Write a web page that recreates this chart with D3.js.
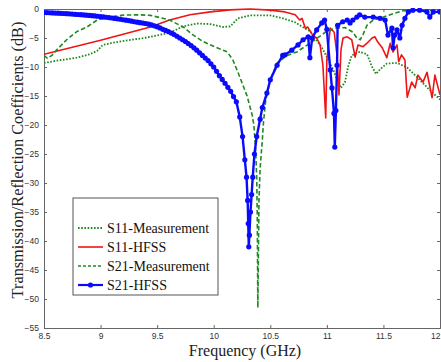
<!DOCTYPE html>
<html>
<head>
<meta charset="utf-8">
<script src="https://cdn.jsdelivr.net/npm/d3@7"></script>
<style>
  body { margin: 0; background: #fff; }
  svg { display: block; }
</style>
</head>
<body>
<svg id="chart" width="441" height="362"></svg>
<script>
// tick values
var xTicks = [8.5, 9, 9.5, 10, 10.5, 11, 11.5, 12];
var yTicks = [0, -5, -10, -15, -20, -25, -30, -35, -40, -45, -50, -55];

// S11 - Measurement (green dotted)
var s11MeasF = [8.5, 8.615, 8.79, 8.905, 8.97, 9.02, 9.11, 9.235, 9.35, 9.44, 9.61, 9.73, 9.85, 9.97, 10.08, 10.145, 10.215, 10.32, 10.5, 10.61, 10.72, 10.81, 10.85, 10.895, 10.955, 11.0, 11.055, 11.09, 11.125, 11.16, 11.187, 11.22, 11.29, 11.355, 11.4, 11.435, 11.47, 11.53, 11.62, 11.71, 11.8, 11.91, 12.0];
var s11MeasDb = [-9.3, -8.9, -8.4, -7.8, -7.2, -6.2, -5.8, -5.4, -5.1, -4.8, -4.1, -3.0, -2.5, -2.6, -3.1, -3.0, -1.6, -1.1, -1.1, -1.6, -2.3, -3.4, -3.8, -5.0, -6.6, -8.3, -10.4, -12.2, -13.6, -12.6, -10.0, -8.0, -7.4, -7.8, -10.0, -11.2, -10.4, -9.4, -9.3, -10.1, -11.8, -14.0, -15.6];

// S11 - HFSS (red)
var s11HfssF = [8.5, 9.0, 9.44, 9.61, 9.79, 9.97, 10.145, 10.32, 10.5, 10.63, 10.72, 10.76, 10.78, 10.81, 10.83, 10.875, 10.91, 10.94, 10.965, 10.99, 11.0, 11.03, 11.065, 11.09, 11.107, 11.125, 11.143, 11.18, 11.22, 11.25, 11.275, 11.32, 11.355, 11.4, 11.425, 11.45, 11.49, 11.53, 11.56, 11.585, 11.62, 11.635, 11.66, 11.69, 11.71, 11.75, 11.78, 11.805, 11.85, 11.885, 11.93, 11.955, 12.0];
var s11HfssDb = [-7.8, -5.4, -3.1, -1.9, -1.0, -0.5, -0.15, 0, -0.2, -0.5, -1.0, -1.9, -1.6, -3.3, -3.1, -4.5, -5.0, -6.2, -9.7, -18.8, -8.8, -3.3, -4.0, -8.0, -14.8, -7.0, -5.0, -4.8, -5.3, -8.3, -6.2, -6.5, -5.9, -5.0, -4.8, -5.7, -6.7, -8.4, -5.9, -7.4, -6.2, -9.1, -7.9, -8.8, -15.2, -12.6, -13.6, -11.4, -12.6, -10.9, -15.3, -11.4, -14.8];

// S21 - Measurement (green dashed)
var s21MeasF = [8.5, 8.53, 8.57, 8.615, 8.7, 8.79, 8.88, 8.97, 9.08, 9.2, 9.35, 9.44, 9.53, 9.61, 9.73, 9.82, 9.905, 10.03, 10.12, 10.17, 10.23, 10.295, 10.34, 10.355, 10.37, 10.38, 10.385, 10.39, 10.395, 10.4, 10.41, 10.43, 10.44, 10.46, 10.5, 10.56, 10.65, 10.735, 10.805, 10.895, 10.98, 11.07, 11.16, 11.23, 11.265, 11.295, 11.32, 11.355, 11.41, 11.5, 11.585, 11.67, 11.82, 12.0];
var s21MeasDb = [-8.0, -8.5, -8.0, -7.0, -5.3, -3.9, -3.1, -1.9, -1.4, -1.05, -1.0, -1.1, -1.5, -1.9, -3.1, -4.5, -5.6, -6.7, -7.4, -8.8, -11.7, -15.0, -18.3, -20, -24, -29, -36, -51.5, -42, -33, -27.5, -22.5, -19.5, -15.7, -12.2, -9.3, -8.0, -7.4, -6.5, -5.3, -4.1, -3.3, -3.2, -4.0, -5.0, -5.3, -4.4, -2.8, -1.9, -1.4, -0.8, -0.3, -0.2, -0.2];

// S21 - HFSS (blue with markers), densely sampled on the smooth part
var s21HfssF = [8.5, 8.525, 8.55, 8.575, 8.6, 8.625, 8.65, 8.675, 8.7, 8.725, 8.75, 8.775, 8.8, 8.825, 8.85, 8.875, 8.9, 8.925, 8.95, 8.975,
    9.0, 9.025, 9.05, 9.075, 9.1, 9.125, 9.15, 9.175, 9.2, 9.225, 9.25, 9.275, 9.3, 9.325, 9.35, 9.375, 9.4, 9.425, 9.45, 9.475,
    9.5, 9.525, 9.55, 9.575, 9.6, 9.625, 9.65, 9.675, 9.7, 9.725, 9.75, 9.775, 9.8, 9.825, 9.85, 9.875, 9.9, 9.925, 9.95, 9.975,
    10.0, 10.025, 10.05, 10.075, 10.1, 10.125, 10.15, 10.175, 10.2, 10.23, 10.255, 10.275, 10.29, 10.3, 10.305, 10.31, 10.315, 10.325, 10.335, 10.345, 10.36, 10.38, 10.41, 10.43, 10.47, 10.5, 10.56, 10.61, 10.63, 10.69, 10.745, 10.79, 10.835, 10.85, 10.87, 10.91, 10.955, 10.98, 11.0, 11.03, 11.045, 11.063, 11.07, 11.08, 11.09, 11.095, 11.14, 11.18, 11.205, 11.23, 11.265, 11.29, 11.335, 11.41, 11.47, 11.515, 11.54, 11.575, 11.585, 11.6, 11.62, 11.645, 11.665, 11.69, 11.72, 11.76, 11.82, 11.885, 11.91, 11.94, 12.0];
var s21HfssDb = [-0.6, -0.62, -0.65, -0.68, -0.7, -0.72, -0.75, -0.78, -0.8, -0.84, -0.88, -0.91, -0.95, -0.98, -1.02, -1.06, -1.1, -1.15, -1.2, -1.25,
    -1.3, -1.36, -1.42, -1.48, -1.55, -1.62, -1.7, -1.77, -1.85, -1.92, -2.0, -2.1, -2.2, -2.27, -2.35, -2.42, -2.5, -2.62, -2.75, -2.9,
    -3.05, -3.27, -3.5, -3.7, -3.9, -4.15, -4.4, -4.7, -5.0, -5.3, -5.6, -5.95, -6.3, -6.7, -7.1, -7.55, -8.0, -8.45, -8.9, -9.45,
    -10.0, -10.75, -11.5, -12.15, -12.8, -13.5, -14.2, -15.1, -16.0, -18.6, -22, -26, -29, -33, -37, -41, -39, -35, -32, -29, -25, -22, -19, -17, -14.5, -12.2, -9.7, -8.0, -7.9, -7.1, -6.2, -5.3, -4.8, -8.4, -5.0, -3.6, -2.4, -1.9, -3.5, -10.5, -13.6, -18, -23.8, -17.5, -9.7, -2.8, -2.2, -1.9, -2.4, -1.9, -1.4, -1.0, -1.4, -1.4, -1.6, -1.9, -4.5, -3.3, -6.7, -4.5, -3.6, -5.0, -2.8, -1.6, -0.5, -0.2, -0.2, -0.5, -1.4, -0.5, -0.5];

var legendNames = ["S11-Measurement", "S11-HFSS", "S21-Measurement", "S21-HFSS"];

var svg = d3.select("#chart");
var margin = { top: 9, right: 1, bottom: 34, left: 44 },
    width = 441 - margin.left - margin.right,
    height = 362 - margin.top - margin.bottom;

var x = d3.scaleLinear().domain([8.5, 12]).range([0, width]);
var y = d3.scaleLinear().domain([-55, 0]).range([height, 0]);

var g = svg.append("g")
    .attr("transform", "translate(" + margin.left + "," + margin.top + ")");

g.append("defs").append("clipPath")
    .attr("id", "clip")
    .append("rect")
    .attr("x", 0).attr("y", -1)
    .attr("width", width).attr("height", height + 2);

// axes, MATLAB style: ticks inward on all four sides
var axisColor = "#666";
var xAxis = d3.axisBottom(x).tickValues(xTicks).tickSize(-3).tickPadding(6).tickFormat(d3.format("~g"));
var yAxis = d3.axisLeft(y).tickValues(yTicks).tickSize(-3).tickPadding(6).tickFormat(d3.format("~g"));

var gx = g.append("g").attr("transform", "translate(0," + height + ")").call(xAxis);
var gy = g.append("g").call(yAxis);
g.append("g").call(d3.axisTop(x).tickValues(xTicks).tickSize(-3).tickFormat(""));
g.append("g").attr("transform", "translate(" + width + ",0)")
    .call(d3.axisRight(y).tickValues(yTicks).tickSize(-3).tickFormat(""));

g.selectAll(".domain").attr("stroke", axisColor);
g.selectAll(".tick line").attr("stroke", axisColor);
g.selectAll(".tick text")
    .attr("font-family", "Liberation Sans, Arial, sans-serif")
    .attr("font-size", 8.5)
    .attr("fill", "#333");
gx.selectAll(".tick text").attr("dy", "0.6em");
// last x label sits on the window edge
gx.selectAll(".tick text").filter(function (d) { return d === 12; }).attr("text-anchor", "end");
gy.selectAll(".tick text").attr("dx", "0.1em");

// curves
var plot = g.append("g").attr("clip-path", "url(#clip)");

function pts(fs, vs) {
    return fs.map(function (f, i) { return [f, vs[i]]; });
}
var line = d3.line()
    .x(function (d) { return x(d[0]); })
    .y(function (d) { return y(d[1]); });

var green = "#1f8a1f";
var red = "#f01414";
var blue = "#0a0aff";

plot.append("path")
    .attr("d", line(pts(s11MeasF, s11MeasDb)))
    .attr("fill", "none").attr("stroke", green)
    .attr("stroke-width", 1.8).attr("stroke-dasharray", "1.6,1.6");

plot.append("path")
    .attr("d", line(pts(s11HfssF, s11HfssDb)))
    .attr("fill", "none").attr("stroke", red)
    .attr("stroke-width", 1.6).attr("stroke-linejoin", "round");

plot.append("path")
    .attr("d", line(pts(s21MeasF, s21MeasDb)))
    .attr("fill", "none").attr("stroke", green)
    .attr("stroke-width", 1.6).attr("stroke-dasharray", "4.5,2.5");

var blueData = pts(s21HfssF, s21HfssDb);
plot.append("path")
    .attr("d", line(blueData))
    .attr("fill", "none").attr("stroke", blue)
    .attr("stroke-width", 2.4).attr("stroke-linejoin", "round");

plot.selectAll(".dot")
    .data(blueData)
    .enter()
    .append("circle")
    .attr("class", "dot")
    .attr("cx", function (d) { return x(d[0]); })
    .attr("cy", function (d) { return y(d[1]); })
    .attr("r", 2.6)
    .attr("fill", blue);

// axis titles
svg.append("text")
    .attr("x", 245).attr("y", 356)
    .attr("text-anchor", "middle")
    .attr("font-family", "Liberation Serif, Times New Roman, serif")
    .attr("font-size", 16)
    .attr("fill", "#222")
    .text("Frequency (GHz)");

svg.append("text")
    .attr("transform", "translate(23,160) rotate(-90)")
    .attr("text-anchor", "middle")
    .attr("font-family", "Liberation Serif, Times New Roman, serif")
    .attr("font-size", 16.3)
    .attr("fill", "#222")
    .text("Transmission/Reflection Coefficients (dB)");

// legend
var lg = svg.append("g").attr("transform", "translate(73,198)");
lg.append("rect")
    .attr("width", 145).attr("height", 97)
    .attr("fill", "#fff").attr("stroke", "#555").attr("stroke-width", 1);

var styles = [
    { color: green, w: 1.8, dash: "1.6,1.6", dot: false },
    { color: red, w: 1.6, dash: null, dot: false },
    { color: green, w: 1.6, dash: "3,2", dot: false },
    { color: blue, w: 2.2, dash: null, dot: true }
];

legendNames.forEach(function (name, i) {
    var yy = 30 + i * 19;
    var s = styles[i];
    lg.append("line")
        .attr("x1", 5).attr("x2", 30).attr("y1", yy).attr("y2", yy)
        .attr("stroke", s.color).attr("stroke-width", s.w)
        .attr("stroke-dasharray", s.dash);
    if (s.dot) {
        lg.append("circle").attr("cx", 17.5).attr("cy", yy).attr("r", 2.6).attr("fill", s.color);
    }
    lg.append("text")
        .attr("x", 34).attr("y", yy + 4.5)
        .attr("font-family", "Liberation Serif, Times New Roman, serif")
        .attr("font-size", 14)
        .attr("fill", "#111")
        .text(name);
});
</script>
</body>
</html>
